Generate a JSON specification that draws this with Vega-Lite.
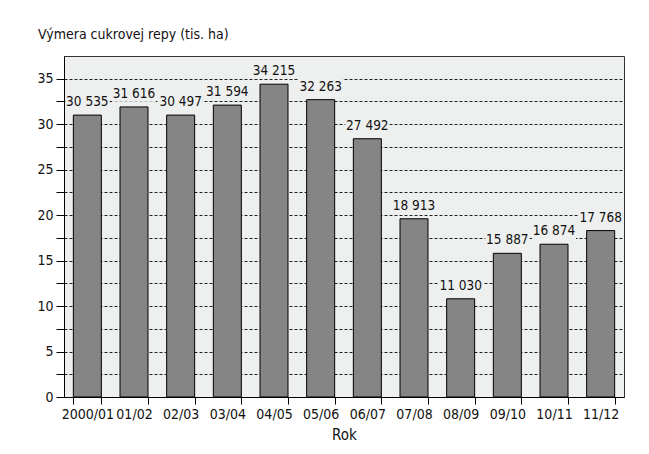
{
  "$schema": "https://vega.github.io/schema/vega-lite/v6.json",
  "width": 560,
  "height": 341,
  "autosize": {"type": "none"},
  "padding": {"left": 64, "top": 56, "right": 25, "bottom": 57},
  "background": "white",
  "title": {
    "text": "Výmera cukrovej repy (tis. ha)",
    "anchor": "start",
    "frame": "group",
    "dx": -26,
    "offset": 14,
    "fontSize": 14,
    "fontWeight": "normal",
    "color": "#111",
    "font": "DejaVu Sans Condensed, sans-serif"
  },
  "data": {
    "values": [
      {"rok": "2000/01", "vymera": 31.0, "popis": "30 535"},
      {"rok": "01/02", "vymera": 31.9, "popis": "31 616"},
      {"rok": "02/03", "vymera": 31.0, "popis": "30 497"},
      {"rok": "03/04", "vymera": 32.1, "popis": "31 594"},
      {"rok": "04/05", "vymera": 34.4, "popis": "34 215"},
      {"rok": "05/06", "vymera": 32.7, "popis": "32 263"},
      {"rok": "06/07", "vymera": 28.4, "popis": "27 492"},
      {"rok": "07/08", "vymera": 19.6, "popis": "18 913"},
      {"rok": "08/09", "vymera": 10.8, "popis": "11 030"},
      {"rok": "09/10", "vymera": 15.8, "popis": "15 887"},
      {"rok": "10/11", "vymera": 16.8, "popis": "16 874"},
      {"rok": "11/12", "vymera": 18.3, "popis": "17 768"}
    ]
  },
  "encoding": {
    "x": {
      "field": "rok",
      "type": "nominal",
      "sort": null,
      "scale": {"paddingInner": 0.4, "paddingOuter": 0.2},
      "axis": {
        "title": "Rok",
        "labelAngle": 0,
        "tickBand": "extent",
        "tickSize": 7,
        "tickColor": "#000",
        "domainColor": "#000",
        "labelPadding": 3,
        "titlePadding": 6
      }
    },
    "y": {
      "field": "vymera",
      "type": "quantitative",
      "scale": {"domain": [0, 37.5], "nice": false},
      "axis": {
        "title": null,
        "values": [0, 2.5, 5, 7.5, 10, 12.5, 15, 17.5, 20, 22.5, 25, 27.5, 30, 32.5, 35],
        "labelExpr": "datum.value % 5 === 0 ? datum.label : ''",
        "grid": true,
        "gridColor": "#222",
        "gridDash": [3, 2],
        "gridWidth": 1,
        "tickSize": 8,
        "tickColor": "#000",
        "domainColor": "#000",
        "labelPadding": 3
      }
    }
  },
  "layer": [
    {
      "mark": {"type": "bar", "fill": "#858585", "stroke": "#000", "strokeWidth": 1}
    },
    {
      "mark": {
        "type": "point",
        "shape": "M-1,-0.36H1V0.36H-1Z",
        "size": 1936,
        "filled": true,
        "fill": "#eef0ef",
        "opacity": 1,
        "strokeWidth": 0,
        "yOffset": -13
      }
    },
    {
      "mark": {
        "type": "text",
        "dy": -13,
        "baseline": "middle",
        "fontSize": 13.5,
        "color": "#111",
        "font": "DejaVu Sans Condensed, sans-serif"
      },
      "encoding": {"text": {"field": "popis"}}
    }
  ],
  "config": {
    "font": "DejaVu Sans Condensed, sans-serif",
    "view": {"fill": "#eef0ef", "stroke": "#333", "strokeWidth": 1},
    "axis": {
      "labelFontSize": 14,
      "labelColor": "#111",
      "titleFontSize": 15,
      "titleFontWeight": "normal",
      "titleColor": "#111",
      "labelFont": "DejaVu Sans Condensed, sans-serif",
      "titleFont": "DejaVu Sans Condensed, sans-serif"
    }
  }
}
